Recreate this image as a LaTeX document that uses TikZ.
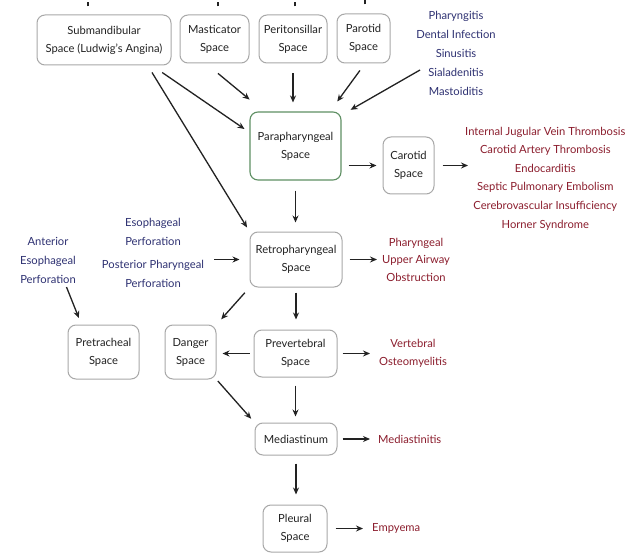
\documentclass[tikz,border=0pt]{standalone}
\usepackage{fontspec}
\setmainfont{Lato}
\usetikzlibrary{arrows.meta}
\definecolor{boxgray}{HTML}{A8A8A8}
\definecolor{boxgreen}{HTML}{5E8F63}
\definecolor{causeblue}{HTML}{2E3172}
\definecolor{compred}{HTML}{8C1E2E}
\definecolor{txt}{HTML}{222222}
\tikzset{
  space/.style={draw=boxgray, line width=1pt, rounded corners=8pt, inner sep=0pt,
    align=center, text=txt, font=\fontsize{11.2}{18}\selectfont},
  greenspace/.style={space, draw=boxgreen, line width=1.1pt},
  cause/.style={text=causeblue, align=center, inner sep=0pt, font=\fontsize{11.2}{19}\selectfont},
  comp/.style={text=compred, align=center, inner sep=0pt, font=\fontsize{11.2}{18.6}\selectfont},
  arr/.style={-{Stealth[length=7pt,width=6pt]}, line width=1.3pt, draw=txt},
  stub/.style={line width=1.5pt, draw=txt},
}
\begin{document}
\begin{tikzpicture}[x=1pt,y=-1pt]
\useasboundingbox[fill=white] (0,0) rectangle (636,553);

% spaces
\node[space, minimum width=134pt, minimum height=50pt] (sub) at (104,40) {Submandibular\\Space (Ludwig's Angina)};
\node[space, minimum width=69pt, minimum height=48pt] (mast) at (214.5,39) {Masticator\\Space};
\node[space, minimum width=68pt, minimum height=48pt] (peri) at (293,39) {Peritonsillar\\Space};
\node[space, minimum width=53pt, minimum height=49pt] (parotid) at (363.5,38.5) {Parotid\\Space};
\node[greenspace, minimum width=91pt, minimum height=68pt] (para) at (295.5,146) {Parapharyngeal\\Space};
\node[space, minimum width=51pt, minimum height=57pt] (carotid) at (408.5,165.5) {Carotid\\Space};
\node[space, minimum width=92pt, minimum height=55pt] (retro) at (296,259.5) {Retropharyngeal\\Space};
\node[space, minimum width=71pt, minimum height=54pt] (pre) at (103.5,352) {Pretracheal\\Space};
\node[space, minimum width=51pt, minimum height=54pt] (danger) at (190.5,352) {Danger\\Space};
\node[space, minimum width=83pt, minimum height=47pt] (prev) at (295.5,353.5) {Prevertebral\\Space};
\node[space, minimum width=82pt, minimum height=32pt] (media) at (296,439) {Mediastinum};
\node[space, minimum width=64pt, minimum height=47pt] (pleural) at (295,528.5) {Pleural\\Space};

% causes (blue)
\node[cause] (causes) at (456,53.5) {Pharyngitis\\Dental Infection\\Sinusitis\\Sialadenitis\\Mastoiditis};
\node[cause] (perf) at (153,253) {Esophageal\\Perforation\\[4pt]Posterior Pharyngeal\\Perforation};
\node[cause] (ant) at (48,260) {Anterior\\Esophageal\\Perforation};

% complications (red)
\node[comp, anchor=west] (compl) at (465,178.5) {Internal Jugular Vein Thrombosis\\Carotid Artery Thrombosis\\Endocarditis\\Septic Pulmonary Embolism\\Cerebrovascular Insufficiency\\Horner Syndrome};
\node[comp, anchor=west, font=\fontsize{11.2}{17.5}\selectfont] (phar) at (382,259.5) {Pharyngeal\\Upper Airway\\Obstruction};
\node[comp, anchor=west] (vert) at (379,353.5) {Vertebral\\Osteomyelitis};
\node[comp, anchor=west] (medi) at (378,439) {Mediastinitis};
\node[comp, anchor=west] (empy) at (372,528.5) {Empyema};

% stubs at the top edge (ends of arrows cut off above)
\draw[stub] ([xshift=-16pt,yshift=8pt]sub.north) -- ++(0,-4);
\draw[stub] ([xshift=3.5pt,yshift=8pt]mast.north) -- ++(0,-4);
\draw[stub] ([xshift=2pt,yshift=8pt]peri.north) -- ++(0,-4);
\draw[stub] ([xshift=1.5pt,yshift=9pt]parotid.north) -- ++(0,-4);

% arrows into parapharyngeal
\draw[arr, shorten <=12.4pt, shorten >=6pt] ([xshift=48pt]sub.south) -- ([yshift=13.6pt]para.west);
\draw[arr, shorten <=8.2pt, shorten >=4.7pt] ([xshift=43.7pt]sub.south) -- (retro.north west);
\draw[arr, shorten <=15.5pt, shorten >=18.6pt] ([xshift=-8.5pt]mast.south) -- ([xshift=-31.5pt]para.north);
\draw[arr, shorten <=10pt, shorten >=9pt] (peri.south) -- (peri.south |- para.north);
\draw[arr, shorten <=8.6pt, shorten >=12.3pt] ([xshift=1.5pt]parotid.south) -- ([xshift=34.5pt]para.north);
\draw[arr, shorten >=10.4pt] ([xshift=-36pt,yshift=-16.5pt]causes.center) -- ([yshift=31pt]para.east);

% parapharyngeal onward
\draw[arr, shorten <=7pt, shorten >=6pt] (para.east |- carotid.west) -- (carotid.west);
\draw[arr, shorten <=8pt, shorten >=-3pt] (carotid.east) -- (carotid.east -| compl.west);
\draw[arr, shorten <=10pt, shorten >=9pt] (para.south) -- (para.south |- retro.north);

% retropharyngeal
\draw[arr, shorten <=10pt, shorten >=10pt] (perf.east |- retro.west) -- (retro.west);
\draw[arr, shorten <=7pt, shorten >=5pt] (retro.east) -- (phar.west);
\draw[arr, shorten <=7pt, shorten >=7pt] (retro.south west) -- (danger.north east);
\draw[arr, shorten <=5pt, shorten >=10pt] (retro.south) -- (retro.south |- prev.north);
\draw[arr, shorten <=4pt, shorten >=7pt] ([xshift=17pt]ant.south) -- ([xshift=-22pt]pre.north);

% prevertebral and below
\draw[arr, shorten <=4pt, shorten >=6pt] (prev.west) -- (prev.west -| danger.east);
\draw[arr, shorten <=5pt, shorten >=9pt] (prev.east) -- (vert.west);
\draw[arr, shorten <=2pt, shorten >=5pt] (danger.south east) -- (media.north west);
\draw[arr, shorten <=8pt, shorten >=6pt] (prev.south) -- (prev.south |- media.north);
\draw[arr, shorten <=5pt, shorten >=8pt] (media.east) -- (medi.west);
\draw[arr, shorten <=8pt, shorten >=10pt] (media.south) -- (media.south |- pleural.north);
\draw[arr, shorten <=8pt, shorten >=9pt] (pleural.east) -- (empy.west);
\end{tikzpicture}
\end{document}
